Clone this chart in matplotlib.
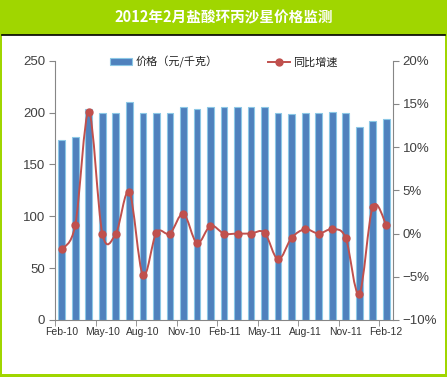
import numpy as np
import matplotlib
matplotlib.use("Agg")
import matplotlib.pyplot as plt
from matplotlib.path import Path
from matplotlib.patches import PathPatch, Rectangle
from matplotlib.lines import Line2D
from matplotlib.ticker import FuncFormatter

plt.rcParams['font.family'] = ['Liberation Sans', 'Noto Sans CJK SC', 'DejaVu Sans']

TITLE = "2012年2月盐酸环丙沙星价格监测"
months = ["Feb-10", "Mar-10", "Apr-10", "May-10", "Jun-10", "Jul-10", "Aug-10",
          "Sep-10", "Oct-10", "Nov-10", "Dec-10", "Jan-11", "Feb-11", "Mar-11",
          "Apr-11", "May-11", "Jun-11", "Jul-11", "Aug-11", "Sep-11", "Oct-11",
          "Nov-11", "Dec-11", "Jan-12", "Feb-12"]
price = [174, 176, 203, 200, 200, 210, 200, 200, 200, 205, 203, 205, 205, 205,
         205, 205, 200, 199, 200, 200, 201, 200, 186, 192, 194]
yoy = [-1.8, 1.0, 14.1, 0.0, 0.0, 4.8, -4.8, 0.1, 0.0, 2.3, -1.1, 0.9, 0.0, 0.0,
       0.0, 0.1, -3.0, -0.5, 0.5, 0.0, 0.5, -0.5, -7.0, 3.1, 1.0]
price_label = "价格（元/千克）"
yoy_label = "同比增速"

GREEN = "#A0D600"
BAR = "#4F81BD"
BAR_EDGE = "#8CC8E6"
RED = "#C0504D"
AXC = "#868686"
TXT = "#404040"

fig = plt.figure(figsize=(4.47, 3.77), dpi=100)
fig.patch.set_facecolor(GREEN)
W, H = 447, 377
fig.add_artist(Rectangle((2 / W, 3 / H), 443 / W, (H - 35 - 3) / H,
                         transform=fig.transFigure, facecolor="white",
                         edgecolor="none", zorder=0))
fig.add_artist(Line2D([2 / W, 445 / W], [1 - 35 / H, 1 - 35 / H],
                      transform=fig.transFigure, color="black", lw=1.2))
fig.text(0.5, 1 - 17 / H, TITLE, ha="center", va="center", color="white",
         fontsize=10.5, fontweight="bold", family=['Noto Sans CJK SC', 'DejaVu Sans'])

ax = fig.add_axes([55 / W, 1 - 320 / H, 338 / W, 259.3 / H])
ax.set_facecolor("none")
x = np.arange(len(months))
bars = ax.bar(x, price, width=0.5, color=BAR, edgecolor=BAR_EDGE, linewidth=0.8,
              label=price_label)
ax.set_xlim(-0.5, len(months) - 0.5)
ax.set_ylim(0, 250)
ax.set_yticks(range(0, 251, 50))
ax.set_xticks(x[::3])
ax.set_xticklabels(months[::3])
ax.set_xticks(np.arange(-0.5, len(months), 3), minor=True)
ax.tick_params(axis="x", which="major", length=0, labelsize=7.5, colors="#333333", pad=5)
ax.tick_params(axis="x", which="minor", length=4, color=AXC)
ax.tick_params(axis="y", length=4, color=AXC, labelsize=9.5, labelcolor=TXT, pad=3)
for s in ["top", "right"]:
    ax.spines[s].set_visible(False)
for s in ["left", "bottom"]:
    ax.spines[s].set_color(AXC)

ax2 = ax.twinx()
ax2.set_ylim(-10, 20)
ax2.set_yticks(range(-10, 21, 5))
ax2.yaxis.set_major_formatter(FuncFormatter(lambda v, p: f"{int(v)}%".replace("-", "\u2212")))
ax2.tick_params(axis="y", length=4, color=AXC, labelsize=9.5, labelcolor=TXT, pad=3)
for s in ["top", "left", "bottom"]:
    ax2.spines[s].set_visible(False)
ax2.spines["right"].set_color(AXC)

# smoothed line through the points (Catmull-Rom as cubic Bezier)
pts = np.column_stack([x, yoy]).astype(float)
verts = [tuple(pts[0])]
codes = [Path.MOVETO]
n = len(pts)
for i in range(n - 1):
    p0 = pts[i - 1] if i > 0 else pts[i]
    p1, p2 = pts[i], pts[i + 1]
    p3 = pts[i + 2] if i + 2 < n else pts[i + 1]
    c1 = p1 + (p2 - p0) / 6
    c2 = p2 - (p3 - p1) / 6
    verts += [tuple(c1), tuple(c2), tuple(p2)]
    codes += [Path.CURVE4] * 3
ax2.add_patch(PathPatch(Path(verts, codes), facecolor="none", edgecolor=RED, lw=1.4))
ax2.plot(x, yoy, "o", color=RED, markersize=5)

line_handle = Line2D([], [], color=RED, lw=1.4, marker="o", markersize=5)
ax2.legend([bars, line_handle], [price_label, yoy_label], loc="center",
           bbox_to_anchor=(0.5, 0.995), ncol=2, frameon=False,
           handlelength=2.0, handleheight=0.5, handletextpad=0.3, columnspacing=4.5,
           labelcolor="#222222",
           prop={'family': ['Noto Sans CJK SC', 'DejaVu Sans'], 'size': 8})

fig.savefig("out.png", dpi=100, facecolor=fig.get_facecolor())
